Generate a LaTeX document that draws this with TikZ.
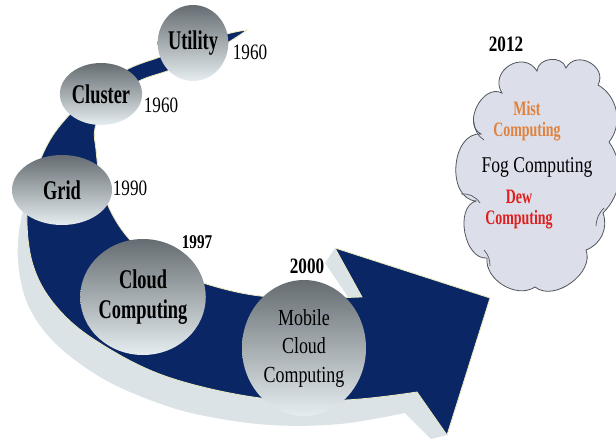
\documentclass[tikz,border=0pt]{standalone}
\usepackage{fontspec}
\usetikzlibrary{shapes.geometric}
\newfontfamily\tnrA[FakeStretch=0.68]{Liberation Serif}
\newfontfamily\tnrB[FakeStretch=0.78]{Liberation Serif}
\definecolor{navy}{HTML}{0B2664}
\definecolor{shadowgray}{HTML}{DCE3E7}
\definecolor{rimyellow}{HTML}{EDEDC0}
\definecolor{balltop}{HTML}{656D72}
\definecolor{ballmid}{HTML}{A8B0B4}
\definecolor{ballbot}{HTML}{E6EDF0}
\definecolor{cloudfill}{HTML}{DCDFE9}
\definecolor{cloudedge}{HTML}{50545C}
\definecolor{mistorange}{HTML}{E0823E}
\definecolor{dewred}{HTML}{DE1F1F}
\tikzset{
  ball/.style={ellipse, inner sep=0pt, align=center, top color=balltop,
    middle color=ballmid, bottom color=ballbot, font=\tnrA\bfseries\fontsize{27}{30}\selectfont},
  year/.style={inner sep=0pt, font=\tnrB\fontsize{22}{24}\selectfont},
  byear/.style={inner sep=0pt, font=\tnrB\bfseries\fontsize{22}{24}\selectfont},
  cloudtxt/.style={inner sep=0pt, align=center, font=\tnrA\bfseries\fontsize{20.5}{21}\selectfont},
  puff/.style={bend left=#1},
}
\begin{document}
\begin{tikzpicture}[x=1pt,y=-1pt]
\useasboundingbox (0,0) rectangle (616,439);
% light underlay of the sweeping arrow
\fill[shadowgray]
  plot[smooth, tension=0.6] coordinates {(247,30) (220,40) (185,52) (150,64) (120,80) (88,105) (60,135) (38,172) (22,215) (18,260) (28,305) (55,343) (100,377) (150,400) (200,415) (270,425) (340,424) (405,413)}
  -- (431,439) -- (447,435) -- (490,298) -- (335,248) -- (325,263) -- (350,300)
  -- plot[smooth, tension=0.6] coordinates {(330,298) (260,296) (203,283) (160,265) (130,240) (110,210) (100,178) (96,150) (95,128) (107,105) (137,82) (170,70) (200,57) (227,43) (247,30)}
  -- cycle;
% navy arrow
\fill[navy, draw=rimyellow, line width=0.8pt]
  plot[smooth, tension=0.6] coordinates {(247,30) (227,34) (190,46) (160,57) (130,68) (100,86) (72,112) (50,140) (35,175) (27,215) (33,265) (55,305) (95,340) (165,376) (260,398) (345,400) (417,392)}
  -- (447,435) -- (490,298) -- (335,248) -- (362,297)
  -- plot[smooth, tension=0.6] coordinates {(330,298) (260,296) (203,283) (160,265) (130,240) (110,210) (100,178) (96,150) (95,128) (107,105) (137,82) (170,70) (200,57) (227,43) (247,30)}
  -- cycle;
% milestones along the arrow
\node[ball, minimum width=63, minimum height=76] (utility) at (193,43) {Utility};
\node[ball, minimum width=72, minimum height=62] (cluster) at (101,94) {Cluster};
\node[ball, minimum width=100, minimum height=70] (grid) at (62,190) {Grid};
\node[ball, minimum width=120, minimum height=116] (cloud) at (143,297) {Cloud\\Computing};
\node[ball, minimum width=124, minimum height=136, font=\tnrB\fontsize{23}{28.5}\selectfont] (mobile) at (304,348) {Mobile\\Cloud\\Computing};
% years
\node[year] (y1) at (250,52) {1960};
\node[year] (y2) at (161,105) {1960};
\node[year] (y3) at (130,188) {1990};
\node[byear, font=\tnrB\bfseries\fontsize{19.5}{22}\selectfont] (y4) at (197,242) {1997};
\node[byear] (y5) at (307,266) {2000};
\node[byear] (y6) at (506,44) {2012};
% the cloud of edge paradigms
\coordinate (p1) at (502,93);
\coordinate (p2) at (537,71);
\coordinate (p3) at (566,68);
\coordinate (p4) at (598,85);
\coordinate (p5) at (609,142);
\coordinate (p6) at (603,213);
\coordinate (p7) at (586,250);
\coordinate (p8) at (535,287);
\coordinate (p9) at (487,258);
\coordinate (p10) at (476,201);
\coordinate (p11) at (481,134);
\filldraw[fill=cloudfill, draw=cloudedge, line width=0.8pt]
  (p1) to[puff=90, looseness=1.6] (p2) to[puff=80, looseness=1.2] (p3)
  to[puff=90, looseness=1.5] (p4) to[puff=50] (p5) to[puff=40] (p6)
  to[puff=45] (p7) to[puff=75] (p8) to[puff=65] (p9) to[puff=85] (p10)
  to[puff=90, looseness=1.15] (p11) to[puff=90, looseness=1.2] (p1) -- cycle;
\draw[cloudedge, line width=0.7pt]
  (474,122) to[bend right=25] (484,140)
  (461,194) to[bend left=30] (480,203)
  (484,250) to[bend left=20] (490,266)
  (604,208) to[bend right=20] (596,226);
\node[cloudtxt, text=mistorange] (mist) at (527,121) {Mist\\Computing};
\node[inner sep=0pt, font=\tnrB\fontsize{22.5}{24}\selectfont] (fog) at (537,167) {Fog Computing};
\node[cloudtxt, text=dewred] (dew) at (519,210) {Dew\\Computing};
\end{tikzpicture}
\end{document}
